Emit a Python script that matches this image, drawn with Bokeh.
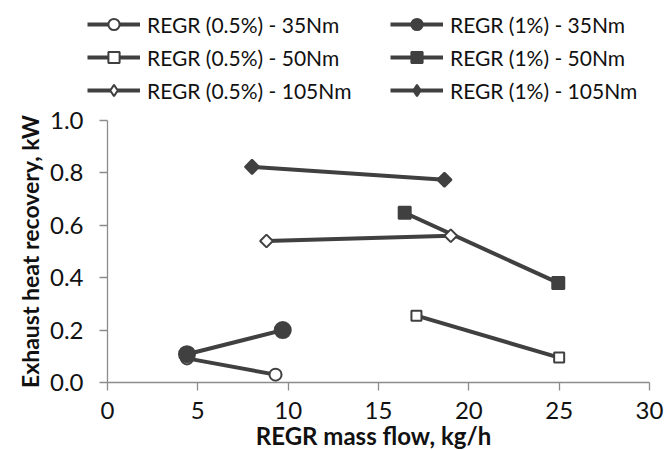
import math
from bokeh.plotting import figure
from bokeh.models import Legend, LegendItem, Range1d, Label, FixedTicker, PrintfTickFormatter
from bokeh.embed import file_html
from bokeh.resources import INLINE

# data
s_names = ["REGR (0.5%) - 35Nm", "REGR (1%) - 35Nm",
           "REGR (0.5%) - 50Nm", "REGR (1%) - 50Nm",
           "REGR (0.5%) - 105Nm", "REGR (1%) - 105Nm"]
x_05_35 = [4.4, 9.3]
y_05_35 = [0.092, 0.030]
x_1_35 = [4.4, 9.7]
y_1_35 = [0.108, 0.200]
x_05_50 = [17.1, 25.0]
y_05_50 = [0.255, 0.095]
x_1_50 = [16.45, 24.95]
y_1_50 = [0.648, 0.380]
x_05_105 = [8.8, 19.0]
y_05_105 = [0.540, 0.560]
x_1_105 = [8.0, 18.65]
y_1_105 = [0.823, 0.774]
x_ticks = [0, 5, 10, 15, 20, 25, 30]
y_ticks = [0.0, 0.2, 0.4, 0.6, 0.8, 1.0]

C = "#404040"
AX = "#8c8c8c"
FONT = "Lato"

# frame covers whole canvas; axes sit at data 0 (pixel 107 / 382)
PX_X = 542 / 30.0
PX_Y = 262 / 1.0
p = figure(width=665, height=450, output_backend="svg", toolbar_location=None,
           x_range=Range1d(-107 / PX_X, (665 - 107) / PX_X),
           y_range=Range1d(-(450 - 382) / PX_Y, 382 / PX_Y),
           min_border=0)
p.outline_line_color = None
p.xgrid.grid_line_color = None
p.ygrid.grid_line_color = None
p.background_fill_color = "white"
p.border_fill_color = "white"

for ax in (p.xaxis[0], p.yaxis[0]):
    ax.fixed_location = 0
    ax.axis_line_color = AX
    ax.axis_line_width = 1.3
    ax.major_tick_line_color = AX
    ax.major_tick_line_width = 1.3
    ax.major_tick_out = 8
    ax.major_tick_in = 0
    ax.minor_tick_line_color = None
    ax.major_label_text_font = FONT
    ax.major_label_text_font_size = "24px"
    ax.major_label_text_color = "#111111"
p.xaxis.bounds = (0, 30)
p.yaxis.bounds = (0, 1.0)
p.xaxis.ticker = FixedTicker(ticks=x_ticks)
p.yaxis.ticker = FixedTicker(ticks=y_ticks)
p.yaxis.formatter = PrintfTickFormatter(format="%.1f")
p.xaxis.major_label_standoff = 11
p.yaxis.major_label_standoff = 16

p.yaxis.axis_label = "Exhaust heat recovery, kW"
p.yaxis.axis_label_text_font = FONT
p.yaxis.axis_label_text_font_style = "bold"
p.yaxis.axis_label_text_font_size = "23px"
p.yaxis.axis_label_text_color = "#111111"
p.yaxis.axis_label_standoff = 3

xl = Label(x=266 / PX_X, y=-53 / PX_Y, text="REGR mass flow, kg/h",
           text_font=FONT, text_font_style="bold", text_font_size="24px",
           text_align="center", text_baseline="alphabetic", text_color="#111111")
p.add_layout(xl)

series = [
    (x_05_35, y_05_35, "circle", "white", 12, 0),
    (x_1_35, y_1_35, "circle", C, 16, 0),
    (x_05_50, y_05_50, "square", "white", 10, 0),
    (x_1_50, y_1_50, "square", C, 12, 0),
    (x_05_105, y_05_105, "square", "white", 9, math.pi / 4),
    (x_1_105, y_1_105, "square", C, 10, math.pi / 4),
]
items = []
for name, (xs, ys, mk, fill, sz, ang) in zip(s_names, series):
    ln = p.line(xs, ys, line_color=C, line_width=4)
    sc = p.scatter(xs, ys, marker=mk, size=sz, angle=ang, fill_color=fill,
                   line_color=C, line_width=2)
    rends = [ln, sc]
    if ang:
        # legend key shows a diamond (legend glyphs ignore marker angle)
        key = p.scatter(xs, ys, marker="diamond", size=sz * 1.6, fill_color=fill,
                        line_color=C, line_width=2, visible=False)
        rends = [ln, key]
    items.append(LegendItem(label=name, renderers=rends))

order = [0, 2, 4, 1, 3, 5]
lg = Legend(items=[items[i] for i in order], location=(87, 450 - 104), ncols=2,
            label_text_font=FONT, label_text_font_size="21px", label_text_color="#111111",
            glyph_width=53, glyph_height=28, label_height=24, label_width=238, spacing=5,
            label_standoff=7, padding=0, margin=0,
            background_fill_alpha=0, border_line_color=None)
p.add_layout(lg)

open("out.html", "w").write(file_html(p, INLINE))
